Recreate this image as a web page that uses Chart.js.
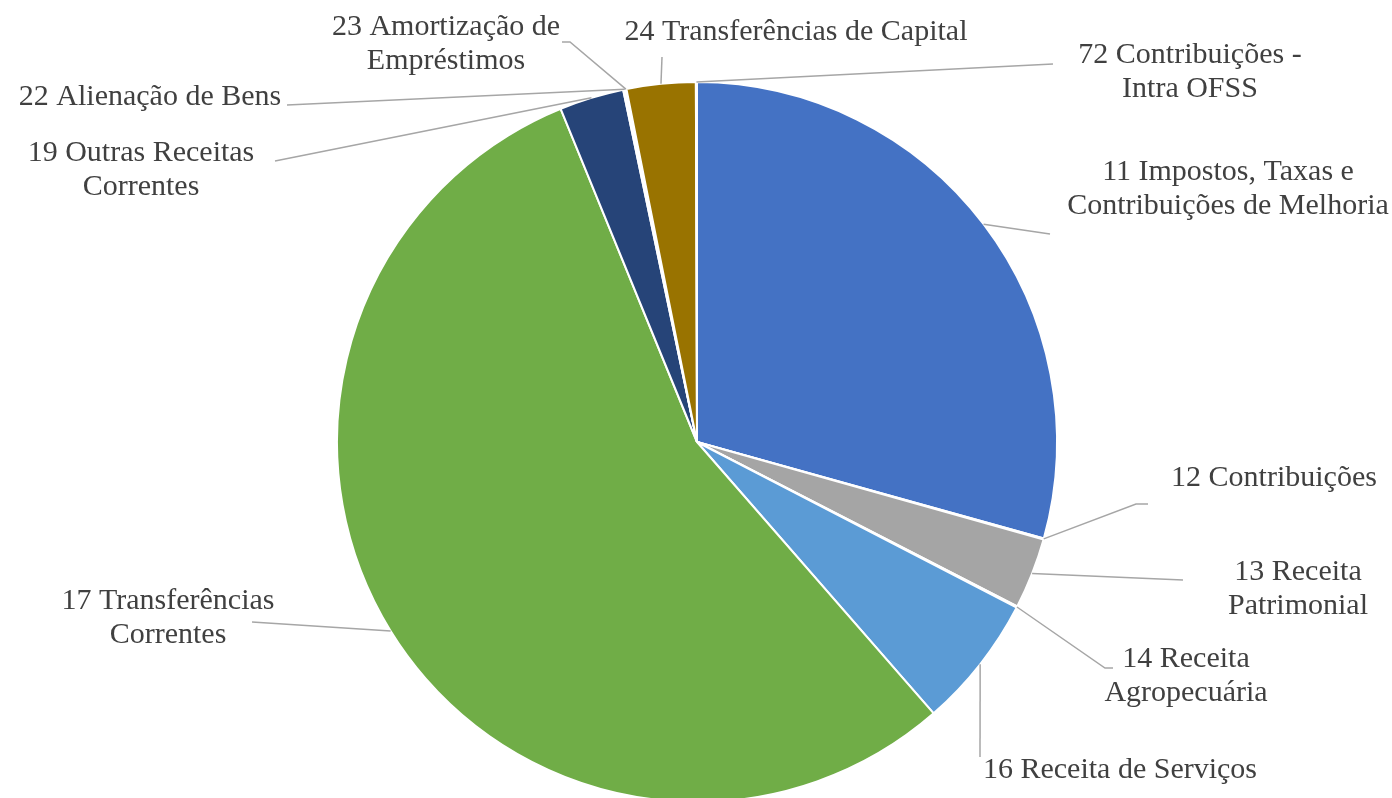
<!DOCTYPE html>
<html>
<head>
<meta charset="utf-8">
<script src="https://cdn.jsdelivr.net/npm/chart.js@4/dist/chart.umd.min.js"></script>
<style>
  html, body { margin: 0; padding: 0; background: #fff; overflow: hidden; }
  #wrap { width: 1392px; height: 804px; }
</style>
</head>
<body>
<div id="wrap"><canvas id="pieChart" width="1392" height="804"></canvas></div>
<script>
// categories (label lines) and share of revenue, in %
const categories = [
    ['11 Impostos, Taxas e', 'Contribuições de Melhoria'],
    ['12 Contribuições'],
    ['13 Receita', 'Patrimonial'],
    ['14 Receita', 'Agropecuária'],
    ['16 Receita de Serviços'],
    ['17 Transferências', 'Correntes'],
    ['19 Outras Receitas', 'Correntes'],
    ['21 Operações de Crédito'],
    ['22 Alienação de Bens'],
    ['23 Amortização de', 'Empréstimos'],
    ['24 Transferências de Capital'],
    ['72 Contribuições -', 'Intra OFSS']
];
const values = [29.4, 0.05, 3.2, 0.05, 6.0, 55.4, 2.9, 0.05, 0.05, 0.05, 3.1, 0.05];
const colors = ['#4472C4', '#ED7D31', '#A5A5A5', '#FFC000', '#5B9BD5', '#70AD47',
                '#264478', '#9E480E', '#636363', '#255E91', '#997300', '#43682B'];

// where each label sits (centre of first line) and the bends of its leader line
const labelLayout = [
    { x: 1228, y: 172, leader: [[1050, 234]] },
    { x: 1274, y: 478, leader: [[1136, 504], [1148, 504]] },
    { x: 1298, y: 572, leader: [[1183, 580]] },
    { x: 1186, y: 659, leader: [[1105, 668], [1113, 668]] },
    { x: 1120, y: 770, leader: [[980, 757]] },
    { x: 168,  y: 601, leader: [[252, 622]] },
    { x: 141,  y: 153, leader: [[275, 161]] },
    { x: 720,  y: -16, leader: [] },
    { x: 150,  y: 97,  leader: [[287, 105]] },
    { x: 446,  y: 27,  leader: [[570, 42], [562, 42]] },
    { x: 796,  y: 32,  leader: [[662, 57]] },
    { x: 1190, y: 55,  leader: [[1053, 64]] }
];
const lineHeight = 34;

const pieLabels = {
    id: 'pieLabels',
    afterDraw(chart) {
        const ctx = chart.ctx;
        const arcs = chart.getDatasetMeta(0).data;
        ctx.save();
        ctx.strokeStyle = '#A6A6A6';
        ctx.lineWidth = 1.5;
        arcs.forEach(function (arc, i) {
            const p = arc.getProps(['x', 'y', 'startAngle', 'endAngle', 'outerRadius'], true);
            const mid = (p.startAngle + p.endAngle) / 2;
            const ax = p.x + Math.cos(mid) * p.outerRadius;
            const ay = p.y + Math.sin(mid) * p.outerRadius;
            const lay = labelLayout[i];
            if (lay.leader.length) {
                ctx.beginPath();
                ctx.moveTo(ax, ay);
                lay.leader.forEach(function (pt) { ctx.lineTo(pt[0], pt[1]); });
                ctx.stroke();
            }
        });
        ctx.fillStyle = '#404040';
        ctx.font = '30px "Liberation Serif", "Times New Roman", serif';
        ctx.textAlign = 'center';
        ctx.textBaseline = 'middle';
        categories.forEach(function (lines, i) {
            const lay = labelLayout[i];
            lines.forEach(function (t, k) {
                ctx.fillText(t, lay.x, lay.y + k * lineHeight);
            });
        });
        ctx.restore();
    }
};

const ctx = document.getElementById('pieChart').getContext('2d');
new Chart(ctx, {
    type: 'pie',
    data: {
        labels: categories,
        datasets: [{
            data: values,
            backgroundColor: colors,
            borderColor: '#ffffff',
            borderWidth: 2
        }]
    },
    options: {
        responsive: false,
        animation: false,
        layout: { padding: { top: 81, bottom: 1, left: 2, right: 0 } },
        plugins: {
            legend: { display: false },
            tooltip: { enabled: false }
        }
    },
    plugins: [pieLabels]
});
</script>
</body>
</html>
